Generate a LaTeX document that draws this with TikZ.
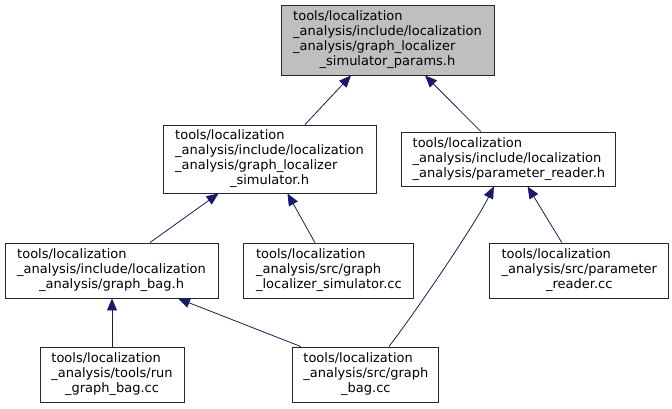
\documentclass[tikz,border=0pt]{standalone}
\usepackage{fontspec}
\setmainfont{DejaVu Sans}
\usepackage{tikz}
\usetikzlibrary{arrows.meta, positioning}
\definecolor{edgeblue}{RGB}{25,25,112}
\definecolor{boxgray}{RGB}{191,191,191}
\tikzstyle{filebox} = [rectangle, draw=black!85, fill=white, line width=0.9pt,
  inner sep=0pt, minimum height=55pt, font=\fontsize{13}{15}\selectfont]
\tikzstyle{incl} = [draw=edgeblue, line width=0.8pt, -{Triangle[length=12pt, width=10pt]}]
\newcommand{\fname}[2]{\begin{tabular}{@{}l@{}}#1\\\multicolumn{1}{@{}c@{}}{#2}\end{tabular}}

\begin{document}
\begin{tikzpicture}[x=1pt, y=1pt]
    \useasboundingbox (0,0) rectangle (672,-408);
    \node[filebox, fill=boxgray, minimum width=213pt, minimum height=70pt] (n0) at (387.5,-40)
      {\fname{tools/localization\\\_analysis/include/localization\\\_analysis/graph\_localizer}{\_simulator\_params.h}};
    \node[filebox, minimum width=213pt, minimum height=68pt] (n1) at (269.5,-159)
      {\fname{tools/localization\\\_analysis/include/localization\\\_analysis/graph\_localizer}{\_simulator.h}};
    \node[filebox, right=25pt of n1, minimum width=214pt, minimum height=54pt] (n2)
      {\fname{tools/localization\\\_analysis/include/localization}{\_analysis/parameter\_reader.h}};
    \node[filebox, minimum width=213pt] (n3) at (111.5,-270.5)
      {\fname{tools/localization\\\_analysis/include/localization}{\_analysis/graph\_bag.h}};
    \node[filebox, right=25pt of n3, minimum width=170pt] (n4)
      {\fname{tools/localization\\\_analysis/src/graph}{\_localizer\_simulator.cc}};
    \node[filebox, right=75pt of n4, minimum width=179pt] (n5)
      {\fname{tools/localization\\\_analysis/src/parameter}{\_reader.cc}};
    \node[filebox, minimum width=144pt] (n6) at (112,-374.5)
      {\fname{tools/localization\\\_analysis/tools/run}{\_graph\_bag.cc}};
    \node[filebox, right=108pt of n6, minimum width=146pt] (n7)
      {\fname{tools/localization\\\_analysis/src/graph}{\_bag.cc}};
    \draw[incl] ([xshift=35.5pt]n1.north) -- ([xshift=-36.5pt]n0.south);
    \draw[incl] ([xshift=-28pt]n2.north) -- ([xshift=37.5pt]n0.south);
    \draw[incl] ([xshift=38.5pt]n3.north) -- ([xshift=-51pt]n1.south);
    \draw[incl] ([xshift=-14pt]n4.north) -- ([xshift=18pt]n1.south);
    \draw[incl] ([xshift=-17.5pt]n5.north) -- ([xshift=18.7pt]n2.south);
    \draw[incl] ([xshift=23pt]n7.north) .. controls +(22,28) and +(-20,-40) .. ([xshift=-15pt]n2.south);
    \draw[incl] (n6.north) -- (n6.north |- n3.south);
    \draw[incl] ([xshift=-65pt]n7.north) -- ([xshift=66.5pt]n3.south);
  \end{tikzpicture}
\end{document}
